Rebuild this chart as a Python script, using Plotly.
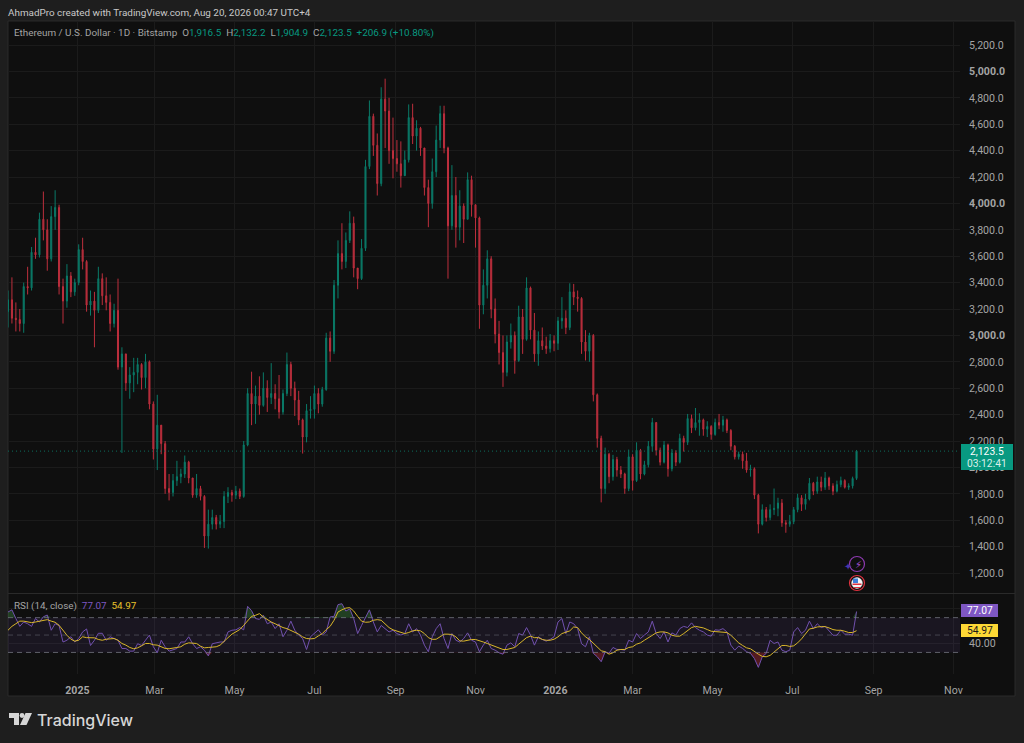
import pandas as pd
import plotly.graph_objects as go

W, H = 1024, 743
LAST_DATE = "2026-08-19"
FIRST_OPEN = 3180

highs = [
3340,3440,3250,3200,3400,3520,3670,3740,3930,4090,
3880,3980,4100,3990,3430,3540,3480,3430,3690,3740,
3570,3340,3330,3520,3470,3440,3310,3240,3430,2910,
2860,2760,2830,2830,2790,2860,2810,2500,2550,2310,
2200,1950,1950,2050,1990,2090,2050,1920,1950,1860,
1790,1680,1680,1640,1640,1820,1850,1830,1860,1840,
2200,2600,2725,2620,2690,2720,2660,2790,2630,2700,
2590,2870,2800,2650,2580,2370,2480,2540,2620,2600,
2610,3020,3030,3420,3720,3850,3780,3940,3900,3500,
3730,4330,4780,4680,4530,4880,4945,4800,4650,4480,
4470,4400,4750,4755,4630,4580,4400,4180,4340,4590,
4740,4740,4430,4290,4200,4100,4000,4235,4210,3990,
3900,3500,3645,3600,3280,3110,3000,3000,3090,3030,
3225,3200,3440,3370,3170,3030,3060,2990,3010,3000,
3140,3290,3190,3395,3390,3340,3290,3040,3020,3010,
2560,2240,2150,2110,2095,2080,2010,1960,2135,2100,
2190,2140,2050,2200,2375,2340,2150,2200,2180,2140,
2130,2255,2240,2405,2400,2450,2410,2370,2350,2320,
2370,2405,2390,2370,2290,2170,2120,2120,2110,2020,
2000,1800,1720,1700,1720,1840,1770,1760,1600,1640,
1700,1800,1790,1800,1920,1890,1930,1930,1965,1930,
1880,1900,1930,1910,1880,1930,2132.2]
lows = [
3060,3090,3030,3030,3020,3310,3340,3580,3590,3720,
3490,3560,3800,3310,3090,3210,3290,3300,3380,3500,
3180,3150,2910,3170,3230,3190,3030,3060,2740,2110,
2580,2520,2570,2630,2590,2600,2440,2060,1980,2100,
1800,1750,1780,1860,1880,1920,1880,1770,1770,1750,
1390,1385,1530,1530,1540,1540,1730,1740,1760,1760,
1770,2160,2320,2330,2400,2460,2420,2480,2440,2370,
2400,2540,2540,2390,2320,2105,2190,2370,2370,2410,
2460,2580,2800,2860,3280,3500,3510,3700,3440,3350,
3420,3640,4260,4360,4060,4130,4420,4300,4190,4240,
4120,4260,4310,4450,4400,4360,4060,3820,3960,4200,
4420,4380,3430,3800,3665,3720,3700,3880,3900,3665,
3050,3160,3280,3130,2940,2780,2610,2690,2900,2710,
2800,2860,2960,2970,2800,2770,2890,2860,2870,2880,
2890,3050,3010,3040,3230,3180,2860,2810,2800,2500,
2150,1735,1800,1880,1900,1930,1920,1800,1820,1825,
1890,1910,1940,2000,2120,2090,2015,2030,1930,1970,
2010,2030,2120,2170,2260,2280,2240,2240,2230,2210,
2240,2290,2270,2260,2130,2060,2060,1990,1960,1930,
1760,1500,1560,1590,1600,1640,1630,1550,1505,1550,
1570,1660,1670,1680,1750,1790,1800,1820,1830,1830,
1790,1810,1850,1840,1830,1840,1904.9]
closes = [
3270,3130,3120,3090,3370,3360,3630,3610,3880,3800,
3580,3900,3970,3370,3260,3450,3330,3400,3650,3560,
3230,3260,3190,3430,3300,3250,3090,3190,2760,2860,
2640,2700,2720,2780,2680,2800,2480,2140,2320,2180,
1840,1810,1900,1930,1950,2040,1920,1790,1840,1780,
1480,1570,1620,1570,1590,1780,1810,1790,1820,1780,
2170,2560,2480,2540,2470,2600,2530,2560,2520,2420,
2560,2780,2600,2510,2360,2230,2430,2440,2560,2480,
2590,2980,2880,3380,3620,3560,3720,3850,3510,3430,
3660,4280,4660,4440,4150,4790,4700,4400,4340,4300,
4210,4330,4650,4510,4570,4420,4120,4000,4240,4480,
4680,4420,3830,4060,3820,3980,3880,4180,3990,3890,
3230,3380,3580,3200,3010,2870,2720,2950,3000,2810,
3140,2970,3360,3040,2860,2960,2920,2900,2960,2940,
3110,3130,3060,3330,3290,3280,2950,2880,3000,2550,
2220,1840,2100,1930,2060,1980,1950,1840,2080,1900,
2130,1950,2020,2160,2340,2130,2040,2170,1990,2110,
2040,2220,2190,2370,2300,2340,2360,2290,2310,2250,
2340,2320,2360,2280,2160,2080,2100,2050,1980,1990,
1790,1570,1680,1620,1680,1690,1730,1580,1570,1590,
1680,1770,1720,1760,1880,1820,1890,1850,1920,1860,
1820,1870,1900,1850,1860,1916.5,2123.5]
rsi_values = [
76.5,79,69,60,65,63,60,69,65,71,73,55.5,63,61,42,44,48,42,46,53.6,57,38,44,52,52,44,48,46,44,34.5,
34.5,31.5,31.5,40,38,44,50,36.5,29.6,44,36.5,31.5,33.4,34.5,42,42,48,40,34.5,36.5,32.6,26,40,41,42,42,53.6,55.5,56,58.6,
56,83,78,69,68,72.7,63,65,57.4,63,48,55.5,66,55.5,50,46,33.4,48,52,56,50,53.6,70.8,71.5,
85,86,77.6,80,69,51.7,61,70.8,79,65,53.6,61,57.4,53.6,55.5,51.7,50,51.7,63,53.6,57.4,50,38.4,30.8,48,57.4,63,46,34.5,51.7,
44,42,46,52.5,44,42,30.8,38.4,44,34.5,32.6,29.6,28,38.4,41,36.5,51.7,50,58.6,50,38.4,48,45,43,45,48,65,69,51.7,65,
63,57.4,40,36.5,48,29,25,19.3,30.8,29,35.7,33.4,33.4,32.6,44,42,51.7,46,50,53.6,66,51.7,46,53.6,42,52.5,50,
57.4,60,58.6,64,58.6,55.5,53.6,50,48.7,56,55.5,57.4,53.6,38.4,32.6,37.3,34.6,30.8,28.9,23,12.8,25,28.9,44,40.3,42,32.6,30.8,32.6,53.6,
58.6,51.7,55.5,66,57.4,63,58.6,60,55.5,49.8,49.8,55.5,51,51,49.8,77.07]
rsi_ma = [
55.5,60,63,66,66,64.7,64.3,65,66,67,67.7,66,64.7,61.2,54.8,49.8,45.2,43,44,48,47,47,46.8,44.9,44,45.2,45.6,46,44,40.3,
38.4,35.7,34.2,35.3,37.6,40.3,40.3,38.8,38.4,36.5,34.6,34.2,34.6,35.7,36.5,39.5,41,41,40.3,37.2,35.3,35.7,36.5,36.5,38.4,43.3,47,51,53.6,56.3,
61.2,67,71.5,72.7,74.6,70.8,67.7,65,63,60.5,58.6,57.4,55.5,53.6,51,47.9,46,45.6,46,49,51.7,56.3,60,67,
76.5,79,81,81.5,77.6,71.5,66,64.7,65,67,67.7,67,63,58.6,56,54.8,52.9,51.7,52.9,54.8,55.5,54.8,51.7,47,45,45.2,48,51,51,50.6,
48,43.3,43,44,44.9,44.9,43,42,40.3,38.4,36.5,34.6,33.4,33.4,34.6,35.7,39.5,43.3,47,48.7,47,47,44.9,44,44,45.2,47.9,51.7,53.6,54.8,
59.3,58.6,52.5,47.9,44.9,40.3,35.7,31.9,30.8,28,29.6,32.6,33.4,33.4,35.7,36.5,39.5,41,44,47,49.8,52.5,53.6,53.6,52.5,49.8,48.7,
48.7,51.7,55.5,58.6,60,59.3,58.2,56.3,54.4,54,53.6,53.6,52.9,49.8,44.9,41,38,35.3,34.2,30.8,28,25.4,25,26.6,30.4,34.6,38,38,36.9,37.6,
41,45.6,51.7,57,57.8,59.3,59.7,59.7,58.2,56.3,55.5,55.5,54.4,52.9,52.9,54.97]

price_ticks = [1200,1400,1600,1800,2000,2200,2400,2600,2800,3000,3200,3400,3600,3800,4000,4200,4400,4600,4800,5000,5200]
time_tick_dates = ["2025-01-01","2025-03-01","2025-05-01","2025-07-01","2025-09-01","2025-11-01",
                   "2026-01-01","2026-03-01","2026-05-01","2026-07-01","2026-09-01","2026-11-01"]
time_tick_labels = ["<b>2025</b>","Mar","May","Jul","Sep","Nov","<b>2026</b>","Mar","May","Jul","Sep","Nov"]

UP, DOWN = "#089981", "#f23645"
GRID = "#1b1b1b"
TXT = "#a4a4a4"
FONT = "Roboto, Inter, sans-serif"

n = len(closes)
assert len(highs) == n and len(lows) == n and len(rsi_values) == n and len(rsi_ma) == n
dates = pd.date_range(end=LAST_DATE, periods=n, freq="3D")
opens = [FIRST_OPEN] + closes[:-1]

def px(x): return x / W
def py(y): return 1 - y / H

fig = go.Figure()
fig.add_trace(go.Candlestick(x=dates, open=opens, high=highs, low=lows, close=closes,
    increasing=dict(line=dict(color="#0a7a68", width=1), fillcolor="#0a6f5f"),
    decreasing=dict(line=dict(color="#bd2f3d", width=1), fillcolor="#a82c39"),
    whiskerwidth=0, xaxis="x", yaxis="y", showlegend=False, hoverinfo="skip"))

x_range = ["2024-11-09", "2026-11-06"]
fig.add_trace(go.Scatter(x=x_range, y=[30, 30], mode="lines", line=dict(width=0), xaxis="x2", yaxis="y2", showlegend=False, hoverinfo="skip"))
fig.add_trace(go.Scatter(x=x_range, y=[70, 70], mode="lines", line=dict(width=0), fill="tonexty",
                         fillcolor="rgba(126,87,194,0.10)", xaxis="x2", yaxis="y2", showlegend=False, hoverinfo="skip"))
fig.add_trace(go.Scatter(x=dates, y=[70]*n, mode="lines", line=dict(width=0), xaxis="x2", yaxis="y2", showlegend=False, hoverinfo="skip"))
fig.add_trace(go.Scatter(x=dates, y=[max(v, 70) for v in rsi_values], mode="lines", line=dict(width=0), fill="tonexty",
                         fillcolor="rgba(76,175,80,0.30)", xaxis="x2", yaxis="y2", showlegend=False, hoverinfo="skip"))
fig.add_trace(go.Scatter(x=dates, y=[30]*n, mode="lines", line=dict(width=0), xaxis="x2", yaxis="y2", showlegend=False, hoverinfo="skip"))
fig.add_trace(go.Scatter(x=dates, y=[min(v, 30) for v in rsi_values], mode="lines", line=dict(width=0), fill="tonexty",
                         fillcolor="rgba(242,54,69,0.30)", xaxis="x2", yaxis="y2", showlegend=False, hoverinfo="skip"))
fig.add_trace(go.Scatter(x=dates, y=rsi_values, mode="lines", line=dict(color="#7150ae", width=1), xaxis="x2", yaxis="y2", showlegend=False, hoverinfo="skip"))
fig.add_trace(go.Scatter(x=dates, y=rsi_ma, mode="lines", line=dict(color="#d9b62a", width=1), xaxis="x2", yaxis="y2", showlegend=False, hoverinfo="skip"))

shapes = [
    dict(type="rect", xref="paper", yref="paper", x0=px(8), x1=px(1015), y0=py(696), y1=py(21),
         fillcolor="#0f0f0f", line=dict(color="#2a2a2a", width=1), layer="below"),
    dict(type="line", xref="paper", yref="paper", x0=px(8), x1=px(1015), y0=py(593.5), y1=py(593.5),
         line=dict(color="#2a2a2a", width=1), layer="above"),
    dict(type="line", xref="x", yref="y", x0=x_range[0], x1=x_range[1], y0=closes[-1], y1=closes[-1],
         line=dict(color="#0c6e5e", width=1, dash="1px,3px"), layer="above"),
]
for lvl in (70, 50, 30):
    shapes.append(dict(type="line", xref="x2", yref="y2", x0=x_range[0], x1=x_range[1], y0=lvl, y1=lvl,
                       line=dict(color="#787b86", width=1, dash="5px,4px"), layer="above", opacity=0.75 if lvl != 50 else 0.45))

def box(x0, y0, x1, y1, col):
    shapes.append(dict(type="rect", xref="paper", yref="paper", x0=px(x0), x1=px(x1), y0=py(y1), y1=py(y0),
                       fillcolor=col, line=dict(width=0), layer="above"))
box(961, 444, 1013, 470, "#089981")
box(961, 604, 998, 617, "#7e57c2")
box(961, 624, 998, 637, "#fdd835")

def circle(cx, cy, r, fill, line, lw=1.2):
    shapes.append(dict(type="circle", xref="paper", yref="paper", x0=px(cx-r), x1=px(cx+r), y0=py(cy+r), y1=py(cy-r),
                       fillcolor=fill, line=dict(color=line, width=lw), layer="above"))
circle(857, 564, 7.5, "rgba(0,0,0,0)", "#8e3bb0")
circle(857, 583, 7.5, "#0f0f0f", "#e0323f")
circle(857, 583, 5.4, "#f4f4f4", "#f4f4f4", 0.5)
box(852.5, 583.5, 861.5, 585, "#e0323f")
box(853.5, 587, 860.5, 588, "#e0323f")
box(853, 578.5, 858, 583, "#3f7fd8")

logo_col = "#d6d6d6"
box(9, 713, 19, 718, logo_col)
box(14, 713, 19, 725, logo_col)
circle(22, 715.5, 2.4, logo_col, logo_col, 0)
shapes.append(dict(type="path", xref="paper", yref="paper", layer="above", fillcolor=logo_col, line=dict(width=0),
    path=f"M {px(25.5)} {py(713)} L {px(32)} {py(713)} L {px(26.5)} {py(725)} L {px(20)} {py(725)} Z"))

def note(x, y, text, size=10.5, color=TXT, anchor="left", weight=None, family=FONT):
    f = dict(family=family, size=size, color=color)
    if weight:
        f["weight"] = weight
    return dict(xref="paper", yref="paper", x=px(x), y=py(y), text=text, showarrow=False, xanchor=anchor,
                yanchor="middle", align=anchor, font=f)

g = UP
ohlc = (f'Ethereum / U.S. Dollar · 1D · Bitstamp  '
        f'O<span style="color:{g}">1,916.5</span>  H<span style="color:{g}">2,132.2</span>  '
        f'L<span style="color:{g}">1,904.9</span>  C<span style="color:{g}">2,123.5</span>  '
        f'<span style="color:{g}">+206.9 (+10.80%)</span>')
annotations = [
    note(6, 12, "AhmadPro created with TradingView.com, Aug 20, 2026 00:47 UTC+4", 9.9, "#c9c9c9"),
    note(12, 33, ohlc, 9.9, "#a4a4a4"),
    note(12, 606, 'RSI (14, close)  <span style="color:#7e57c2">77.07</span>  <span style="color:#e8c32c">54.97</span>', 9.9, "#a4a4a4"),
    note(987, 451.5, "2,123.5", 10.3, "#ffffff", "center"),
    note(987, 463, "03:12:41", 10.3, "#d8f0ea", "center"),
    note(979.5, 610.5, "77.07", 10.3, "#ffffff", "center"),
    note(979.5, 630.5, "54.97", 10.3, "#1a1a1a", "center"),
    note(35, 720, "TradingView", 16, "#d6d6d6", weight=500, family="Inter, Roboto, sans-serif"),
    note(858, 564, "⚡", 10, "#a24fd0", "center", family="DejaVu Sans"),
    note(848, 566, "✦", 10, "#4a35b0", "center", family="DejaVu Sans"),
]

tick_font = dict(family=FONT, size=10.6, color=TXT)
price_labels = [(f"<b>{p:,.1f}</b>" if p % 1000 == 0 else f"{p:,.1f}") for p in price_ticks]

fig.update_layout(
    width=W, height=H, margin=dict(l=0, r=0, t=0, b=0), autosize=False,
    paper_bgcolor="#1e1e1e", plot_bgcolor="rgba(0,0,0,0)", showlegend=False, boxgap=0.62,
    shapes=shapes, annotations=annotations, font=dict(family=FONT),
    xaxis=dict(domain=[px(8), px(960)], range=x_range, type="date", anchor="y", rangeslider=dict(visible=False), automargin=False,
               tickvals=time_tick_dates, showticklabels=False, ticks="", showgrid=True, gridcolor=GRID, gridwidth=1, zeroline=False),
    yaxis=dict(domain=[py(593), py(21)], range=[1048.5, 5382], anchor="x", side="right", tickvals=price_ticks, ticktext=price_labels, automargin=False,
               tickfont=tick_font, ticks="outside", ticklen=6, tickcolor="rgba(0,0,0,0)", showgrid=True, gridcolor=GRID, gridwidth=1,
               zeroline=False, showline=False),
    xaxis2=dict(domain=[px(8), px(960)], range=x_range, type="date", anchor="y2", tickvals=time_tick_dates, ticktext=time_tick_labels, automargin=False,
                tickfont=tick_font, ticks="outside", ticklen=6, tickcolor="rgba(0,0,0,0)", showgrid=True, gridcolor=GRID, gridwidth=1,
                zeroline=False, showline=False),
    yaxis2=dict(domain=[py(674), py(594)], range=[5.2, 97.2], anchor="x2", side="right", tickvals=[40, 80], ticktext=["40.00", ""], automargin=False,
                tickfont=tick_font, ticks="outside", ticklen=6, tickcolor="rgba(0,0,0,0)", showgrid=True, gridcolor=GRID, gridwidth=1,
                zeroline=False, showline=False),
)

fig.write_html("out.html", config=dict(displayModeBar=False),
               post_script="document.body.style.margin='0';document.body.style.background='#1e1e1e';document.body.style.overflow='hidden';")
